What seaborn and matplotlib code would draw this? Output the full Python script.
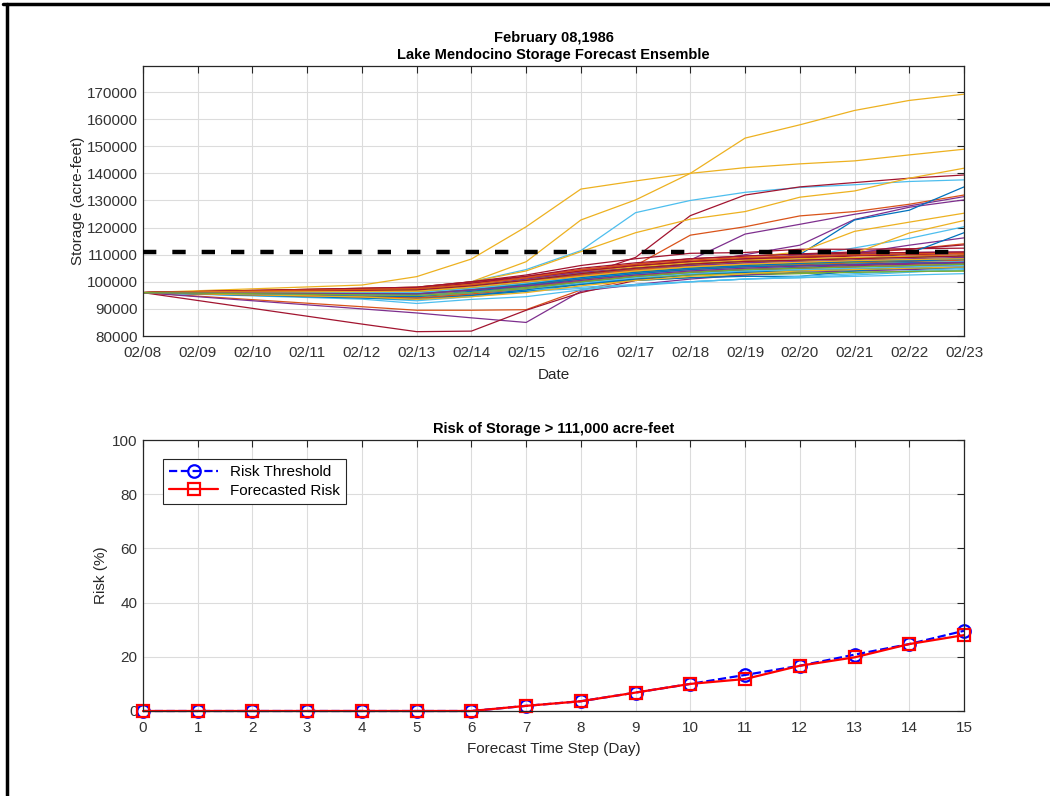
import matplotlib
matplotlib.use("Agg")
import matplotlib.pyplot as plt
import matplotlib.dates as mdates
from matplotlib.lines import Line2D
import pandas as pd
import seaborn as sns

# forecast dates (day 0 .. day 15)
dates = pd.date_range("1986-02-08", "1986-02-23", freq="D")

# ensemble storage traces, thousands of acre-feet, one row per member
storage_kaf = [
    [96.0, 96.1, 96.2, 96.3, 96.4, 96.5, 97.5, 99.0, 101.5, 103.5, 105.0, 106.0, 106.8, 107.3, 107.8, 108.2],
    [96.0, 96.3, 96.6, 96.9, 97.2, 97.5, 98.5, 100.0, 102.5, 106.0, 117.2, 120.3, 124.3, 125.9, 128.6, 132.0],
    [96.0, 96.4, 96.8, 97.2, 97.6, 98.0, 100.0, 107.4, 122.8, 130.2, 140.0, 153.0, 157.9, 163.2, 166.9, 169.2],
    [96.0, 96.1, 96.2, 96.3, 96.4, 96.5, 98.0, 100.5, 103.0, 105.5, 108.0, 117.6, 121.2, 124.9, 128.0, 131.4],
    [96.0, 95.9, 95.8, 95.7, 95.6, 95.5, 96.5, 98.0, 100.5, 102.5, 104.0, 105.0, 105.8, 106.5, 107.0, 107.5],
    [96.0, 96.3, 96.6, 96.9, 97.2, 97.5, 100.0, 104.5, 111.5, 125.5, 130.0, 133.0, 134.8, 135.8, 137.0, 137.6],
    [96.0, 96.3, 96.6, 96.9, 97.2, 97.5, 98.5, 99.5, 102.0, 109.0, 124.4, 132.0, 135.0, 136.6, 138.2, 139.4],
    [96.0, 95.8, 95.6, 95.4, 95.2, 95.0, 96.0, 97.0, 99.5, 101.0, 102.5, 103.5, 104.0, 104.5, 104.8, 105.2],
    [96.0, 96.2, 96.4, 96.6, 96.8, 97.0, 98.5, 100.5, 103.5, 105.5, 107.5, 108.5, 109.5, 110.5, 112.0, 114.0],
    [96.0, 96.7, 97.4, 98.1, 98.8, 101.9, 108.4, 120.3, 134.2, 137.2, 140.0, 142.1, 143.5, 144.6, 146.8, 148.9],
    [96.0, 96.0, 96.0, 96.0, 96.0, 96.0, 97.5, 99.0, 101.5, 104.0, 106.5, 110.0, 113.5, 123.0, 127.5, 130.2],
    [96.0, 96.1, 96.2, 96.3, 96.4, 96.5, 98.0, 100.5, 103.0, 104.5, 105.5, 106.2, 106.8, 107.2, 107.6, 108.0],
    [96.0, 95.8, 95.6, 95.4, 95.2, 95.0, 96.5, 99.0, 102.0, 104.5, 106.0, 107.5, 109.0, 112.5, 116.0, 120.3],
    [96.0, 96.3, 96.6, 96.9, 97.2, 97.5, 99.5, 102.0, 105.0, 107.0, 108.5, 109.5, 110.3, 111.0, 112.0, 113.6],
    [96.0, 95.9, 95.8, 95.7, 95.6, 95.5, 97.0, 99.0, 101.5, 102.5, 104.0, 106.0, 110.0, 122.8, 126.4, 135.0],
    [96.0, 94.7, 93.4, 92.1, 90.8, 89.5, 89.5, 89.7, 97.0, 101.0, 103.5, 105.0, 106.0, 106.8, 107.5, 108.0],
    [96.0, 96.3, 96.6, 96.9, 97.2, 97.5, 100.0, 104.0, 111.1, 118.1, 123.1, 125.9, 131.2, 133.5, 138.2, 141.9],
    [96.0, 96.1, 96.2, 96.3, 96.4, 96.5, 98.0, 100.0, 102.5, 104.5, 106.5, 108.0, 110.0, 110.5, 113.5, 116.2],
    [96.0, 95.7, 95.4, 95.1, 94.8, 94.5, 95.5, 97.0, 99.0, 100.5, 101.5, 102.5, 103.0, 103.5, 103.8, 104.0],
    [96.0, 95.5, 95.0, 94.5, 94.0, 93.0, 94.5, 96.5, 97.5, 98.5, 100.0, 101.0, 101.5, 102.0, 102.5, 103.0],
    [96.0, 96.4, 96.8, 97.2, 97.6, 98.0, 100.0, 102.5, 106.0, 108.5, 110.5, 110.8, 112.0, 112.0, 112.2, 112.4],
    [96.0, 95.7, 95.4, 95.1, 94.8, 94.5, 95.5, 97.0, 99.5, 101.5, 103.0, 104.0, 105.0, 108.0, 110.5, 118.1],
    [96.0, 96.2, 96.4, 96.6, 96.8, 97.0, 98.5, 100.0, 102.5, 104.5, 106.0, 107.0, 108.0, 108.8, 109.5, 110.0],
    [96.0, 96.2, 96.4, 96.6, 96.8, 97.0, 99.0, 101.5, 104.0, 106.0, 107.5, 109.0, 111.0, 118.6, 122.0, 125.3],
    [96.0, 94.5, 93.0, 91.5, 90.0, 88.5, 86.7, 85.0, 96.5, 99.0, 101.0, 102.5, 103.5, 104.0, 104.5, 105.0],
    [96.0, 96.0, 96.0, 96.0, 96.0, 96.0, 97.0, 98.5, 101.0, 103.0, 104.5, 105.5, 106.0, 106.5, 106.8, 107.0],
    [96.0, 95.6, 95.2, 94.8, 94.4, 94.0, 96.0, 98.5, 101.0, 103.0, 104.5, 105.5, 106.0, 106.5, 107.0, 107.5],
    [96.0, 93.1, 90.2, 87.3, 84.4, 81.6, 81.8, 89.5, 96.0, 100.5, 103.0, 104.5, 105.5, 106.0, 106.5, 107.0],
    [96.0, 95.8, 95.6, 95.4, 95.2, 95.0, 96.5, 98.0, 99.5, 100.5, 101.5, 102.0, 102.0, 104.0, 105.5, 106.5],
    [96.0, 96.1, 96.2, 96.3, 96.4, 96.5, 98.5, 101.0, 104.0, 106.0, 107.5, 108.5, 109.2, 109.8, 110.3, 110.8],
    [96.0, 95.7, 95.4, 95.1, 94.8, 94.5, 96.0, 98.0, 101.0, 103.5, 105.5, 107.5, 109.5, 110.5, 118.0, 122.6],
    [96.0, 96.2, 96.4, 96.6, 96.8, 97.0, 98.5, 100.5, 103.0, 105.0, 107.0, 108.5, 109.5, 110.2, 110.8, 111.0],
    [96.0, 95.9, 95.8, 95.7, 95.6, 95.5, 97.0, 99.0, 101.0, 102.5, 103.5, 104.0, 104.5, 104.8, 105.0, 105.2],
    [96.0, 95.4, 94.8, 94.2, 93.6, 92.0, 93.5, 94.5, 97.0, 99.0, 100.0, 101.0, 101.5, 102.5, 103.5, 104.5],
    [96.0, 96.3, 96.6, 96.9, 97.2, 97.5, 99.0, 101.0, 103.5, 105.5, 107.0, 108.0, 108.8, 109.5, 110.0, 110.5],
    [96.0, 95.6, 95.2, 94.8, 94.4, 94.0, 95.0, 96.5, 99.0, 101.0, 102.5, 103.5, 104.0, 104.5, 105.0, 105.5],
    [96.0, 96.0, 96.0, 96.0, 96.0, 96.0, 97.5, 99.5, 102.0, 104.0, 105.5, 106.5, 107.0, 107.5, 108.0, 108.5],
    [96.0, 96.3, 96.6, 96.9, 97.2, 97.5, 99.0, 101.0, 103.5, 105.5, 107.0, 108.0, 108.5, 109.0, 109.3, 109.5],
    [96.0, 95.8, 95.6, 95.4, 95.2, 95.0, 96.5, 98.0, 100.5, 102.5, 104.0, 105.0, 105.5, 106.0, 106.5, 107.0],
    [96.0, 96.1, 96.2, 96.3, 96.4, 96.5, 97.5, 99.0, 101.5, 103.5, 105.0, 106.0, 106.5, 107.0, 107.3, 107.5],
    [96.0, 95.7, 95.4, 95.1, 94.8, 94.5, 95.5, 97.0, 98.0, 99.0, 100.0, 101.0, 102.0, 103.0, 104.0, 105.0],
    [96.0, 96.4, 96.8, 97.2, 97.6, 98.0, 100.0, 102.0, 104.5, 106.5, 108.5, 109.5, 110.2, 110.6, 110.8, 111.0],
    [96.0, 95.5, 95.0, 94.5, 94.0, 93.5, 95.0, 97.0, 100.0, 102.0, 103.5, 104.5, 105.5, 106.5, 107.5, 108.5],
    [96.0, 95.8, 95.6, 95.4, 95.2, 95.0, 96.5, 98.5, 101.0, 103.0, 104.5, 105.5, 106.2, 106.8, 107.2, 107.5],
    [96.0, 95.8, 95.6, 95.4, 95.2, 95.0, 96.5, 98.5, 100.5, 102.5, 104.0, 105.0, 105.8, 106.5, 107.0, 107.5],
    [96.0, 96.2, 96.4, 96.6, 96.8, 97.0, 98.5, 101.0, 103.5, 105.0, 106.0, 107.0, 107.5, 108.0, 108.5, 109.0],
    [96.0, 95.7, 95.4, 95.1, 94.8, 94.5, 96.0, 98.0, 100.0, 101.5, 102.5, 103.0, 103.3, 103.5, 103.8, 104.0],
    [96.0, 96.0, 96.0, 96.0, 96.0, 96.0, 97.5, 99.5, 101.5, 103.0, 104.0, 105.0, 105.8, 106.5, 107.0, 107.5],
    [96.0, 96.3, 96.6, 96.9, 97.2, 97.5, 99.5, 101.5, 104.0, 106.0, 107.5, 108.5, 109.2, 109.8, 110.2, 110.5],
    [96.0, 95.7, 95.4, 95.1, 94.8, 94.5, 96.5, 98.5, 101.0, 103.0, 104.5, 105.5, 106.0, 106.5, 107.0, 107.0],
    [96.0, 95.6, 95.2, 94.8, 94.4, 94.0, 95.5, 97.5, 100.0, 102.0, 103.5, 104.5, 105.0, 105.5, 106.0, 106.5],
    [96.0, 95.6, 95.2, 94.8, 94.4, 93.5, 94.5, 96.0, 98.5, 100.5, 102.0, 103.0, 104.0, 104.5, 105.0, 105.5],
    [96.0, 95.8, 95.6, 95.4, 95.2, 95.0, 96.0, 97.5, 100.0, 102.0, 103.5, 104.5, 105.0, 105.5, 105.8, 106.0],
    [96.0, 96.2, 96.4, 96.6, 96.8, 97.0, 98.5, 100.5, 103.0, 105.0, 106.5, 107.5, 108.0, 108.5, 109.0, 109.5],
    [96.0, 95.8, 95.6, 95.4, 95.2, 95.0, 96.0, 97.5, 99.5, 101.5, 103.0, 104.0, 104.5, 105.0, 105.5, 106.0],
    [96.0, 96.2, 96.4, 96.6, 96.8, 97.0, 98.5, 100.5, 103.0, 105.0, 106.5, 107.5, 108.0, 108.5, 109.0, 109.5],
    [96.0, 95.9, 95.8, 95.7, 95.6, 95.5, 97.0, 99.0, 101.5, 103.5, 105.0, 106.0, 106.8, 107.5, 108.0, 108.5],
    [96.0, 96.3, 96.6, 96.9, 97.2, 97.5, 99.0, 101.5, 104.5, 106.5, 108.0, 109.0, 109.5, 110.0, 110.3, 110.5],
    [96.0, 96.1, 96.2, 96.3, 96.4, 96.5, 98.0, 100.0, 102.0, 104.0, 105.5, 106.5, 107.2, 107.8, 108.2, 108.5],
    [96.0, 95.9, 95.8, 95.7, 95.6, 95.5, 97.0, 98.5, 100.5, 102.5, 104.0, 105.0, 105.8, 106.3, 106.8, 107.2],
    [96.0, 95.8, 95.6, 95.4, 95.2, 95.0, 96.0, 97.5, 100.0, 102.0, 103.5, 104.5, 105.0, 105.5, 106.0, 106.5],
]
threshold = 111000

# risk of exceeding the threshold per forecast day (%)
steps = list(range(16))
risk_threshold = [0, 0, 0, 0, 0, 0, 0, 1.9, 3.6, 6.8, 10.0, 13.3, 16.7, 20.8, 24.7, 29.6]
risk_forecast = [0, 0, 0, 0, 0, 0, 0, 1.9, 3.6, 6.8, 10.0, 11.8, 16.7, 19.8, 24.7, 28.0]

matlab_colors = ["#0072BD", "#D95319", "#EDB120", "#7E2F8E", "#77AC30", "#4DBEEE", "#A2142F"]

sns.set_style("white")
plt.rcParams["font.family"] = ["Liberation Sans", "DejaVu Sans"]
plt.rcParams["axes.edgecolor"] = "#262626"
plt.rcParams["text.color"] = "#000000"

rows = []
for m, vals in enumerate(storage_kaf):
    for d, v in zip(dates, vals):
        rows.append((f"m{m:02d}", d, v * 1000))
df = pd.DataFrame(rows, columns=["member", "date", "storage"])
members = [f"m{m:02d}" for m in range(len(storage_kaf))]
palette = {name: matlab_colors[i % 7] for i, name in enumerate(members)}

fig = plt.figure(figsize=(10.5, 7.96), dpi=100)
ax1 = fig.add_axes([143 / 1050, 1 - 336 / 796, 821 / 1050, 270 / 796])
ax2 = fig.add_axes([143 / 1050, 1 - 711 / 796, 821 / 1050, 271 / 796])


def matlab_axes(ax):
    ax.grid(True, color="#dcdcdc", linewidth=0.8)
    ax.set_axisbelow(True)
    for s in ax.spines.values():
        s.set_linewidth(0.9)
        s.set_color("#262626")
    ax.tick_params(direction="in", length=5, width=0.8, top=True, right=True,
                   labelsize=11, colors="#262626", labelcolor="#333333")
    ax.tick_params(axis="x", pad=7)
    ax.tick_params(axis="y", pad=4)


# top: ensemble
sns.lineplot(data=df, x="date", y="storage", hue="member", hue_order=members,
             palette=palette, legend=False, linewidth=0.9, estimator=None, ax=ax1)
ax1.axhline(threshold, color="k", linewidth=3.2, linestyle=(0, (3.0, 3.6)),
            dash_capstyle="butt", zorder=5)
ax1.set_xlim(dates[0], dates[-1])
ax1.set_ylim(80000, 179600)
ax1.set_yticks(range(80000, 170001, 10000))
ax1.xaxis.set_major_locator(mdates.DayLocator())
ax1.xaxis.set_major_formatter(mdates.DateFormatter("%m/%d"))
matlab_axes(ax1)
ax1.set_xlabel("Date", fontsize=11, color="#262626", labelpad=6)
ax1.set_ylabel("Storage (acre-feet)", fontsize=11, color="#262626", labelpad=1)
ax1.set_title("February 08,1986\nLake Mendocino Storage Forecast Ensemble",
              fontsize=10.5, fontweight="bold", pad=5, linespacing=1.3)

# bottom: risk
sns.lineplot(x=steps, y=risk_threshold, ax=ax2, color="blue", linestyle="--",
             marker="o", markersize=9, markerfacecolor="none", markeredgecolor="blue",
             markeredgewidth=1.6, linewidth=1.6, label="Risk Threshold")
sns.lineplot(x=steps, y=risk_forecast, ax=ax2, color="red", linestyle="-",
             marker="s", markersize=8, markerfacecolor="none", markeredgecolor="red",
             markeredgewidth=1.6, linewidth=1.6, label="Forecasted Risk")
ax2.set_xlim(0, 15)
ax2.set_ylim(0, 100)
ax2.set_xticks(steps)
ax2.set_yticks(range(0, 101, 20))
matlab_axes(ax2)
for line in ax2.lines:
    line.set_clip_on(False)
ax2.set_xlabel("Forecast Time Step (Day)", fontsize=11, color="#262626", labelpad=5)
ax2.set_ylabel("Risk (%)", fontsize=11, color="#262626", labelpad=3)
ax2.set_title("Risk of Storage > 111,000 acre-feet", fontsize=10.5,
              fontweight="bold", pad=5)
leg = ax2.legend(loc="upper left", bbox_to_anchor=(20 / 821, 1 - 19 / 271),
                 borderaxespad=0, fontsize=11, fancybox=False, framealpha=1,
                 edgecolor="#262626", handlelength=3.2, borderpad=0.4,
                 labelspacing=0.3)
leg.get_frame().set_linewidth(0.8)

# figure border (top and left edges)
fig.add_artist(Line2D([0.003, 1.0], [0.9945, 0.9945], transform=fig.transFigure,
                      color="k", linewidth=2.5))
fig.add_artist(Line2D([0.0062, 0.0062], [0.0, 0.9955], transform=fig.transFigure,
                      color="k", linewidth=2.5))

fig.savefig("out.png", dpi=100)
